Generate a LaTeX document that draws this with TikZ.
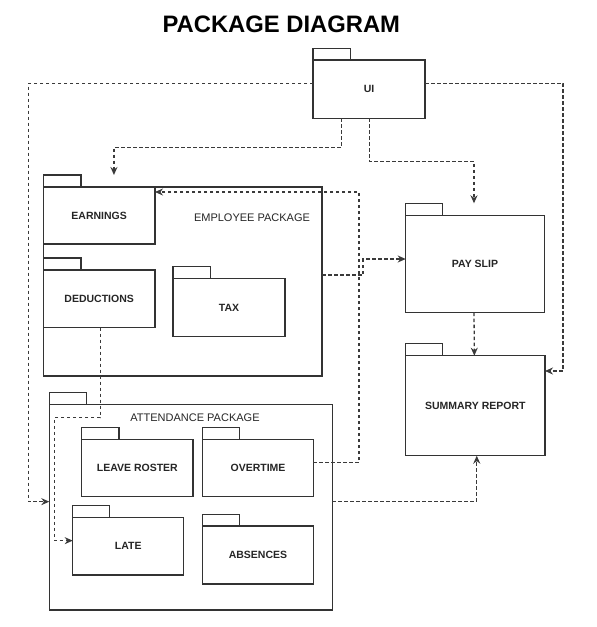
\documentclass[tikz,border=0pt]{standalone}
\usepackage{fontspec}
\setmainfont{Liberation Sans}
\usetikzlibrary{arrows.meta,calc}
\definecolor{linec}{HTML}{333333}
\definecolor{depc}{HTML}{3a3a3a}
\definecolor{txtc}{HTML}{262626}
\newcommand\lblfont{\fontsize{10.5}{12}\selectfont\bfseries}
\newcommand\pkgfont{\fontsize{11}{13}\selectfont}
\newcommand\pkgbox[8]{%
  \pgfmathsetmacro\pw{#4-#2}%
  \pgfmathsetmacro\ph{#5-#3}%
  \pgfmathsetmacro\tw{#6-#2}%
  \pgfmathsetmacro\th{#3-#7}%
  \node[pkg, minimum width=\pw pt, minimum height=\ph pt, anchor=north west] (#1) at (#2,#3) {#8};
  \node[tabbox, minimum width=\tw pt, minimum height=\th pt] (#1tab) at (#1.north west) {};
}
\begin{document}
\begin{tikzpicture}[x=1pt,y=-1pt,
  pkg/.style={draw=linec, line width=1.2pt, fill=white, inner sep=0pt, outer sep=0pt, font=\lblfont, text=txtc},
  tabbox/.style={draw=linec, line width=1.2pt, fill=white, inner sep=0pt, outer sep=0pt, anchor=south west},
  plainbox/.style={draw=linec, line width=1.2pt, fill=white, inner sep=0pt, outer sep=0pt, anchor=north west},
  pkglabel/.style={font=\pkgfont, text=txtc, inner sep=0pt},
  dep/.style={draw=depc, line width=1.3pt, dash pattern=on 3.5pt off 2.5pt, -{Stealth[length=8pt,width=7pt]}}]
\useasboundingbox (0,0) rectangle (597,627);
\fill[white] (0,0) rectangle (597,627);
\node[font=\fontsize{23.8}{27}\selectfont\bfseries, inner sep=0pt] (title) at (281.3,23.9) {PACKAGE DIAGRAM};

% Employee package
\node[plainbox, minimum width=278.7pt, minimum height=189pt] (emp) at (43.3,187) {};
\node[pkglabel] (emplbl) at (252,217.7) {EMPLOYEE PACKAGE};
\pkgbox{earn}{43.3}{187}{155}{244}{81}{175}{EARNINGS}
\pkgbox{ded}{43.3}{270}{155}{327.7}{81}{258}{DEDUCTIONS}
\pkgbox{tax}{173}{278.7}{285}{336.7}{210.7}{266.7}{TAX}

% Attendance package
\pkgbox{att}{49.3}{404.3}{332.3}{610}{86.7}{392.3}{}
\node[pkglabel] (attlbl) at (195,417.3) {ATTENDANCE PACKAGE};
\pkgbox{leave}{81.7}{439.3}{193}{496.7}{119}{427.3}{LEAVE ROSTER}
\pkgbox{ot}{202.7}{439.3}{313.3}{496.7}{239.3}{427.3}{OVERTIME}
\pkgbox{late}{72.7}{517.3}{183.7}{575}{109.3}{505.7}{LATE}
\pkgbox{abs}{202.7}{526}{313.3}{584}{239.3}{514.3}{ABSENCES}

% Right side
\pkgbox{ui}{313}{60}{425}{118.3}{350.4}{48.3}{UI}
\pkgbox{pay}{405.7}{215.7}{544.3}{312.7}{442.3}{203.3}{PAY SLIP}
\pkgbox{sum}{405.7}{355.7}{545}{455.7}{442.3}{343.3}{SUMMARY REPORT}

% Dependencies
\draw[dep] ([xshift=-27.4pt]ui.south) -- ++(0,29) -| ([xshift=14.8pt,yshift=12pt]earn.north);
\draw[dep] ([xshift=0.5pt]ui.south) -- ++(0,43.4) -| ([xshift=-1pt,yshift=12.4pt]pay.north);
\draw[dep] ([yshift=5.8pt]ui.west) -| ([xshift=-21pt,yshift=5.5pt]att.west) -- ([yshift=5.5pt]att.west);
\draw[dep] ([yshift=5.8pt]ui.east) -| ([xshift=18pt,yshift=34.7pt]sum.east) -- ([yshift=34.7pt]sum.east);
\draw[dep] ([yshift=6.5pt]emp.east) -- ++(41,0) |- ([yshift=5.2pt]pay.west);
\draw[dep] ([xshift=-1pt]pay.south) -- ([xshift=-1pt]sum.north);
\draw[dep] ([yshift=5.7pt]ot.east) -| ([xshift=204pt,yshift=23.5pt]earn.east) -- ([yshift=23.5pt]earn.east);
\draw[dep] ([yshift=6pt]att.east) -| ([xshift=1.4pt]sum.south);
\draw[dep] ([xshift=1pt]ded.south) -- ++(0,90) -| ([xshift=-18.4pt,yshift=5.5pt]late.west) -- ([yshift=5.5pt]late.west);
\end{tikzpicture}
\end{document}
